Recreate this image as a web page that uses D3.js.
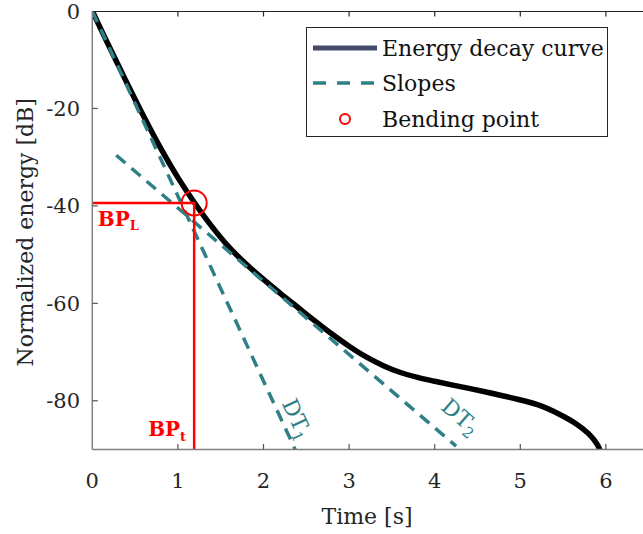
<!DOCTYPE html>
<html><head><meta charset="utf-8">
<script src="https://cdn.jsdelivr.net/npm/d3@7"></script>
<style>body{margin:0;background:#fff;} svg{display:block;}</style>
</head><body>
<svg id="chart" width="643" height="534"></svg>
<script>
// ---- data ----
const edcTime = [0, 0.2, 0.4, 0.6, 0.8, 1.0, 1.2, 1.4, 1.6, 1.8, 2.0, 2.2, 2.4, 2.6, 2.8, 3.0, 3.2, 3.4, 3.6, 3.8, 4.0, 4.3, 4.6, 4.9, 5.2, 5.45, 5.65, 5.8, 5.9, 5.95];
const edcLevel = [0, -7.4, -14.6, -21.6, -28.2, -34.2, -39.5, -44.3, -48.5, -52.0, -55.1, -58.0, -60.8, -63.6, -66.3, -68.8, -71.0, -72.8, -74.2, -75.2, -76.0, -77.1, -78.2, -79.4, -80.8, -82.7, -84.7, -86.8, -89.0, -91.0];
const slope1Time = [0, 2.37];
const slope1Level = [0, -90];
const slope2Time = [0.28, 4.25];
const slope2Level = [-29.6, -89.3];
const bendTime = 1.19;
const bendLevel = -39.4;
const xTicks = [0, 1, 2, 3, 4, 5, 6];
const yTicks = [0, -20, -40, -60, -80];
const xDomain = [0, 6.5];
const yDomain = [-90, 0];
const legendLabels = ["Energy decay curve", "Slopes", "Bending point"];
const slopeLabels = [{t: 2.21, l: -80.5, main: "DT", sub: "1", rot: 65}, {t: 4.06, l: -81.6, main: "DT", sub: "2", rot: 41}];

// ---- layout ----
const svg = d3.select("#chart");
const L = 92.3, T = 11, B = 449.5;
const x = d3.scaleLinear().domain(xDomain).range([L, L + 6.5 * 85.6]);
const y = d3.scaleLinear().domain(yDomain).range([B, T]);
const FONT = "DejaVu Serif";
const TEAL = "#2f7f86";
const RED = "#ff0000";
const AXC = "#262626";

const clipId = "plotclip";
svg.append("defs").append("clipPath").attr("id", clipId)
  .append("rect").attr("x", L).attr("y", T).attr("width", 700).attr("height", B - T);

const plot = svg.append("g").attr("clip-path", `url(#${clipId})`);

// EDC
plot.append("path").datum(edcTime.map((t, i) => [t, edcLevel[i]]))
  .attr("d", d3.line().curve(d3.curveCatmullRom.alpha(0.5)).x(d => x(d[0])).y(d => y(d[1])))
  .attr("fill", "none").attr("stroke", "#000").attr("stroke-width", 5.5)
  .attr("stroke-linejoin", "round");

// slopes
const line = d3.line().x(d => x(d[0])).y(d => y(d[1]));
[[slope1Time, slope1Level], [slope2Time, slope2Level]].forEach(([ts, ls]) => {
  plot.append("path").datum(ts.map((t, i) => [t, ls[i]]))
    .attr("d", line).attr("fill", "none").attr("stroke", TEAL)
    .attr("stroke-width", 3.5).attr("stroke-dasharray", "12,8");
});

// bending point guides
plot.append("path")
  .attr("d", `M${x(0)},${y(bendLevel)}H${x(bendTime)}V${y(yDomain[0])}`)
  .attr("fill", "none").attr("stroke", RED).attr("stroke-width", 2.5);
plot.append("circle").attr("cx", x(bendTime)).attr("cy", y(bendLevel)).attr("r", 12.5)
  .attr("fill", "none").attr("stroke", RED).attr("stroke-width", 2);

// labels with subscripts
function subText(g, xx, yy, main, sub, opts) {
  const t = g.append("text").attr("x", xx).attr("y", yy)
    .attr("font-family", FONT).attr("font-size", opts.size).attr("fill", opts.color)
    .attr("font-weight", opts.weight || "normal");
  if (opts.rot) t.attr("transform", `rotate(${opts.rot},${xx},${yy})`);
  t.append("tspan").text(main);
  t.append("tspan").attr("dy", opts.subDy).attr("font-size", opts.subSize).text(sub);
  return t;
}
subText(svg, x(0) + 5.5, y(bendLevel) + 23, "BP", "L", {size: 20, subSize: 13, subDy: 4, color: RED, weight: "bold"});
subText(svg, x(bendTime) - 46, y(yDomain[0]) - 14, "BP", "t", {size: 20, subSize: 13, subDy: 5, color: RED, weight: "bold"});

slopeLabels.forEach(s => {
  subText(svg, x(s.t), y(s.l), s.main, s.sub, {size: 22, subSize: 15, subDy: 5, color: TEAL, rot: s.rot});
});

// axes
const tickLen = 5.5;
const axG = svg.append("g");
axG.append("line").attr("x1", L).attr("x2", 643).attr("y1", T + 0.5).attr("y2", T + 0.5)
  .attr("stroke", AXC).attr("stroke-width", 1.2);
axG.append("line").attr("x1", L).attr("x2", L).attr("y1", T).attr("y2", B)
  .attr("stroke", "#808080").attr("stroke-width", 1.5);
axG.append("line").attr("x1", L).attr("x2", 643).attr("y1", B).attr("y2", B)
  .attr("stroke", "#808080").attr("stroke-width", 1.5);

xTicks.forEach(v => {
  if (v > 0) {
    axG.append("line").attr("x1", x(v)).attr("x2", x(v)).attr("y1", B).attr("y2", B - tickLen)
      .attr("stroke", "#555").attr("stroke-width", 1.2);
    axG.append("line").attr("x1", x(v)).attr("x2", x(v)).attr("y1", T).attr("y2", T + tickLen)
      .attr("stroke", AXC).attr("stroke-width", 1.2);
  }
  axG.append("text").attr("x", x(v)).attr("y", B + 38).attr("text-anchor", "middle")
    .attr("font-family", FONT).attr("font-size", 21).attr("fill", AXC).text(v);
});
yTicks.forEach(v => {
  if (v < 0) {
    axG.append("line").attr("x1", L).attr("x2", L + tickLen).attr("y1", y(v)).attr("y2", y(v))
      .attr("stroke", "#555").attr("stroke-width", 1.2);
  }
  axG.append("text").attr("x", 80).attr("y", y(v) + 7.5).attr("text-anchor", "end")
    .attr("font-family", FONT).attr("font-size", 21).attr("fill", AXC).text(v);
});

// axis titles
svg.append("text").attr("x", 367).attr("y", 524).attr("text-anchor", "middle")
  .attr("font-family", FONT).attr("font-size", 22).attr("fill", AXC).text("Time [s]");
svg.append("text").attr("transform", `translate(33,${(T + B) / 2 + 2}) rotate(-90)`)
  .attr("text-anchor", "middle").attr("font-family", FONT).attr("font-size", 22)
  .attr("fill", AXC).text("Normalized energy [dB]");

// legend
const lg = svg.append("g");
lg.append("rect").attr("x", 306.5).attr("y", 27.5).attr("width", 301).attr("height", 109)
  .attr("fill", "#fff").attr("stroke", AXC).attr("stroke-width", 1);
const rowY = [48, 83, 119];
lg.append("line").attr("x1", 313).attr("x2", 377).attr("y1", rowY[0]).attr("y2", rowY[0])
  .attr("stroke", "#414a6b").attr("stroke-width", 5);
lg.append("line").attr("x1", 313).attr("x2", 377).attr("y1", rowY[1]).attr("y2", rowY[1])
  .attr("stroke", TEAL).attr("stroke-width", 3.5).attr("stroke-dasharray", "13,11");
lg.append("circle").attr("cx", 345).attr("cy", rowY[2]).attr("r", 5)
  .attr("fill", "none").attr("stroke", RED).attr("stroke-width", 2);
legendLabels.forEach((s, i) => {
  lg.append("text").attr("x", 382).attr("y", rowY[i] + 8).attr("font-family", FONT)
    .attr("font-size", 22).attr("fill", "#111").text(s);
});
</script>
</body></html>
